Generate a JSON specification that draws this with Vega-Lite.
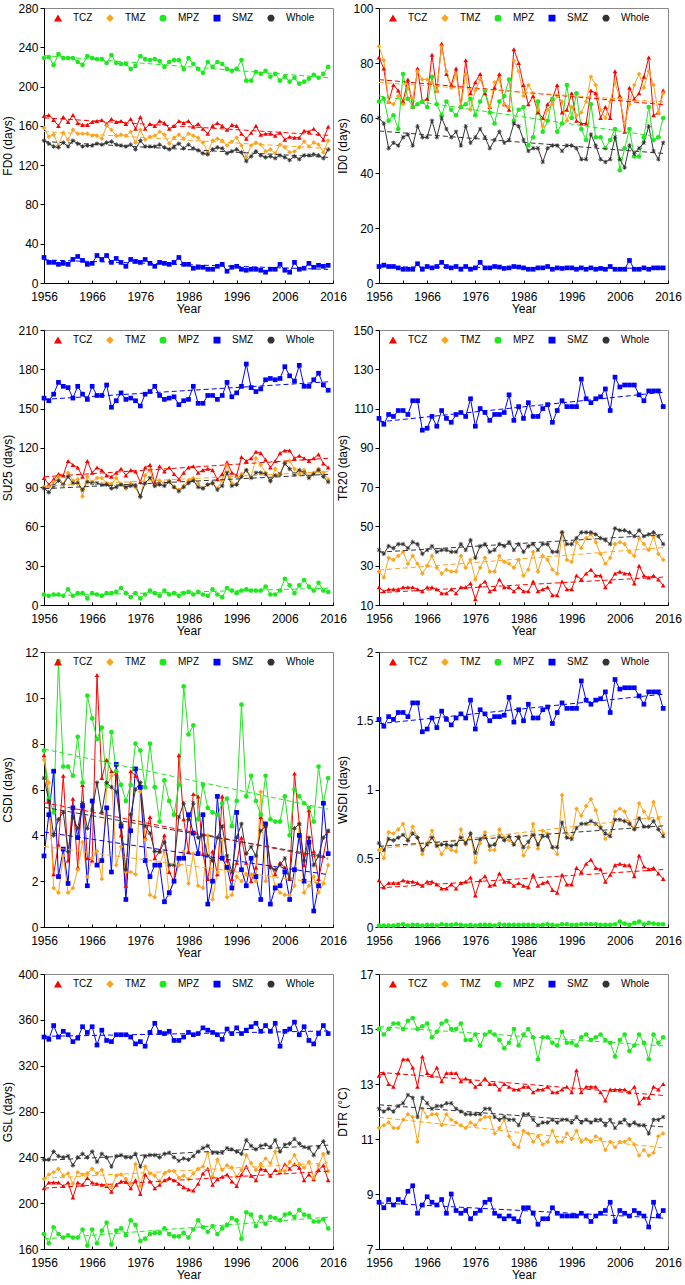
{
"$schema": "https://vega.github.io/schema/vega-lite/v6.json",
"padding": {"left": 0, "top": 1, "right": 3, "bottom": 0},
"columns": 2,
"spacing": {"row": 47, "column": 46},
"bounds": "flush",
"resolve": {"scale": {"color": "independent", "shape": "independent", "y": "independent", "x": "independent"}},
"datasets": {
"FD0": [
{"year":1956,"TCZ":170,"TMZ":158,"MPZ":229,"SMZ":26,"Whole":145},
{"year":1957,"TCZ":171,"TMZ":149,"MPZ":230,"SMZ":21,"Whole":142},
{"year":1958,"TCZ":166,"TMZ":151,"MPZ":222,"SMZ":21,"Whole":139},
{"year":1959,"TCZ":160,"TMZ":140,"MPZ":233,"SMZ":19,"Whole":138},
{"year":1960,"TCZ":169,"TMZ":153,"MPZ":229,"SMZ":20,"Whole":143},
{"year":1961,"TCZ":164,"TMZ":146,"MPZ":229,"SMZ":19,"Whole":139},
{"year":1962,"TCZ":171,"TMZ":156,"MPZ":229,"SMZ":24,"Whole":145},
{"year":1963,"TCZ":163,"TMZ":152,"MPZ":225,"SMZ":27,"Whole":142},
{"year":1964,"TCZ":161,"TMZ":152,"MPZ":222,"SMZ":23,"Whole":139},
{"year":1965,"TCZ":161,"TMZ":152,"MPZ":231,"SMZ":19,"Whole":140},
{"year":1966,"TCZ":164,"TMZ":150,"MPZ":229,"SMZ":20,"Whole":140},
{"year":1967,"TCZ":165,"TMZ":150,"MPZ":228,"SMZ":28,"Whole":142},
{"year":1968,"TCZ":166,"TMZ":147,"MPZ":228,"SMZ":24,"Whole":141},
{"year":1969,"TCZ":162,"TMZ":160,"MPZ":224,"SMZ":28,"Whole":143},
{"year":1970,"TCZ":167,"TMZ":156,"MPZ":232,"SMZ":21,"Whole":144},
{"year":1971,"TCZ":164,"TMZ":150,"MPZ":224,"SMZ":25,"Whole":141},
{"year":1972,"TCZ":165,"TMZ":151,"MPZ":223,"SMZ":21,"Whole":140},
{"year":1973,"TCZ":162,"TMZ":150,"MPZ":223,"SMZ":17,"Whole":139},
{"year":1974,"TCZ":167,"TMZ":154,"MPZ":218,"SMZ":24,"Whole":141},
{"year":1975,"TCZ":157,"TMZ":143,"MPZ":221,"SMZ":22,"Whole":136},
{"year":1976,"TCZ":169,"TMZ":156,"MPZ":231,"SMZ":21,"Whole":145},
{"year":1977,"TCZ":157,"TMZ":146,"MPZ":228,"SMZ":24,"Whole":139},
{"year":1978,"TCZ":162,"TMZ":149,"MPZ":227,"SMZ":20,"Whole":139},
{"year":1979,"TCZ":160,"TMZ":150,"MPZ":228,"SMZ":17,"Whole":139},
{"year":1980,"TCZ":165,"TMZ":154,"MPZ":226,"SMZ":21,"Whole":141},
{"year":1981,"TCZ":163,"TMZ":151,"MPZ":220,"SMZ":20,"Whole":138},
{"year":1982,"TCZ":157,"TMZ":142,"MPZ":225,"SMZ":19,"Whole":136},
{"year":1983,"TCZ":160,"TMZ":148,"MPZ":227,"SMZ":21,"Whole":139},
{"year":1984,"TCZ":165,"TMZ":151,"MPZ":227,"SMZ":26,"Whole":142},
{"year":1985,"TCZ":163,"TMZ":147,"MPZ":218,"SMZ":19,"Whole":137},
{"year":1986,"TCZ":165,"TMZ":152,"MPZ":229,"SMZ":19,"Whole":141},
{"year":1987,"TCZ":159,"TMZ":150,"MPZ":223,"SMZ":15,"Whole":137},
{"year":1988,"TCZ":162,"TMZ":148,"MPZ":218,"SMZ":16,"Whole":135},
{"year":1989,"TCZ":157,"TMZ":143,"MPZ":214,"SMZ":16,"Whole":132},
{"year":1990,"TCZ":152,"TMZ":133,"MPZ":225,"SMZ":14,"Whole":131},
{"year":1991,"TCZ":160,"TMZ":145,"MPZ":220,"SMZ":14,"Whole":136},
{"year":1992,"TCZ":163,"TMZ":147,"MPZ":225,"SMZ":17,"Whole":138},
{"year":1993,"TCZ":160,"TMZ":145,"MPZ":223,"SMZ":19,"Whole":137},
{"year":1994,"TCZ":156,"TMZ":140,"MPZ":218,"SMZ":12,"Whole":132},
{"year":1995,"TCZ":161,"TMZ":144,"MPZ":216,"SMZ":16,"Whole":134},
{"year":1996,"TCZ":160,"TMZ":148,"MPZ":218,"SMZ":17,"Whole":136},
{"year":1997,"TCZ":152,"TMZ":140,"MPZ":227,"SMZ":14,"Whole":133},
{"year":1998,"TCZ":147,"TMZ":128,"MPZ":206,"SMZ":13,"Whole":124},
{"year":1999,"TCZ":153,"TMZ":140,"MPZ":206,"SMZ":14,"Whole":129},
{"year":2000,"TCZ":160,"TMZ":143,"MPZ":215,"SMZ":14,"Whole":134},
{"year":2001,"TCZ":151,"TMZ":141,"MPZ":213,"SMZ":13,"Whole":130},
{"year":2002,"TCZ":152,"TMZ":134,"MPZ":216,"SMZ":11,"Whole":128},
{"year":2003,"TCZ":152,"TMZ":136,"MPZ":210,"SMZ":14,"Whole":129},
{"year":2004,"TCZ":150,"TMZ":132,"MPZ":213,"SMZ":14,"Whole":127},
{"year":2005,"TCZ":153,"TMZ":141,"MPZ":206,"SMZ":19,"Whole":130},
{"year":2006,"TCZ":146,"TMZ":138,"MPZ":210,"SMZ":13,"Whole":128},
{"year":2007,"TCZ":149,"TMZ":133,"MPZ":205,"SMZ":11,"Whole":125},
{"year":2008,"TCZ":148,"TMZ":134,"MPZ":209,"SMZ":21,"Whole":129},
{"year":2009,"TCZ":148,"TMZ":138,"MPZ":203,"SMZ":14,"Whole":126},
{"year":2010,"TCZ":155,"TMZ":144,"MPZ":205,"SMZ":15,"Whole":130},
{"year":2011,"TCZ":154,"TMZ":139,"MPZ":208,"SMZ":20,"Whole":130},
{"year":2012,"TCZ":157,"TMZ":143,"MPZ":212,"SMZ":16,"Whole":131},
{"year":2013,"TCZ":152,"TMZ":141,"MPZ":209,"SMZ":18,"Whole":130},
{"year":2014,"TCZ":146,"TMZ":133,"MPZ":213,"SMZ":17,"Whole":127},
{"year":2015,"TCZ":159,"TMZ":145,"MPZ":220,"SMZ":18,"Whole":136}
],
"ID0": [
{"year":1956,"TCZ":82,"TMZ":86,"MPZ":66,"SMZ":6,"Whole":60},
{"year":1957,"TCZ":78,"TMZ":81,"MPZ":67,"SMZ":6.5,"Whole":58},
{"year":1958,"TCZ":66,"TMZ":66,"MPZ":59,"SMZ":6,"Whole":49},
{"year":1959,"TCZ":72,"TMZ":65,"MPZ":61,"SMZ":6,"Whole":51},
{"year":1960,"TCZ":70,"TMZ":68,"MPZ":56,"SMZ":5.5,"Whole":50},
{"year":1961,"TCZ":66,"TMZ":65,"MPZ":76,"SMZ":5,"Whole":53},
{"year":1962,"TCZ":74,"TMZ":71,"MPZ":67,"SMZ":5,"Whole":54},
{"year":1963,"TCZ":64,"TMZ":67,"MPZ":64,"SMZ":5,"Whole":50},
{"year":1964,"TCZ":78,"TMZ":77,"MPZ":65,"SMZ":7,"Whole":57},
{"year":1965,"TCZ":66,"TMZ":74,"MPZ":66,"SMZ":5,"Whole":53},
{"year":1966,"TCZ":67,"TMZ":74,"MPZ":64,"SMZ":6,"Whole":53},
{"year":1967,"TCZ":83,"TMZ":73,"MPZ":75,"SMZ":5.5,"Whole":59},
{"year":1968,"TCZ":70,"TMZ":70,"MPZ":65,"SMZ":6,"Whole":53},
{"year":1969,"TCZ":87,"TMZ":86,"MPZ":61,"SMZ":7.5,"Whole":60},
{"year":1970,"TCZ":76,"TMZ":77,"MPZ":66,"SMZ":6,"Whole":56},
{"year":1971,"TCZ":72,"TMZ":71,"MPZ":63,"SMZ":5.5,"Whole":53},
{"year":1972,"TCZ":78,"TMZ":76,"MPZ":61,"SMZ":6,"Whole":55},
{"year":1973,"TCZ":64,"TMZ":64,"MPZ":64,"SMZ":5,"Whole":50},
{"year":1974,"TCZ":81,"TMZ":76,"MPZ":65,"SMZ":6,"Whole":57},
{"year":1975,"TCZ":69,"TMZ":63,"MPZ":67,"SMZ":5,"Whole":51},
{"year":1976,"TCZ":73,"TMZ":70,"MPZ":61,"SMZ":5.5,"Whole":53},
{"year":1977,"TCZ":76,"TMZ":74,"MPZ":66,"SMZ":7.5,"Whole":56},
{"year":1978,"TCZ":69,"TMZ":70,"MPZ":70,"SMZ":5.5,"Whole":53},
{"year":1979,"TCZ":64,"TMZ":64,"MPZ":62,"SMZ":5.5,"Whole":49},
{"year":1980,"TCZ":71,"TMZ":73,"MPZ":58,"SMZ":6,"Whole":52},
{"year":1981,"TCZ":76,"TMZ":74,"MPZ":66,"SMZ":5.8,"Whole":55},
{"year":1982,"TCZ":65,"TMZ":65,"MPZ":68,"SMZ":5.3,"Whole":51},
{"year":1983,"TCZ":63,"TMZ":64,"MPZ":74,"SMZ":5.5,"Whole":52},
{"year":1984,"TCZ":85,"TMZ":81,"MPZ":59,"SMZ":6,"Whole":58},
{"year":1985,"TCZ":80,"TMZ":77,"MPZ":63,"SMZ":5.8,"Whole":57},
{"year":1986,"TCZ":72,"TMZ":68,"MPZ":64,"SMZ":5.5,"Whole":52},
{"year":1987,"TCZ":65,"TMZ":72,"MPZ":50,"SMZ":5,"Whole":48},
{"year":1988,"TCZ":68,"TMZ":69,"MPZ":53,"SMZ":5,"Whole":49},
{"year":1989,"TCZ":62,"TMZ":63,"MPZ":66,"SMZ":5.5,"Whole":49},
{"year":1990,"TCZ":60,"TMZ":57,"MPZ":55,"SMZ":5.5,"Whole":44},
{"year":1991,"TCZ":65,"TMZ":63,"MPZ":59,"SMZ":6,"Whole":49},
{"year":1992,"TCZ":67,"TMZ":65,"MPZ":67,"SMZ":5,"Whole":50},
{"year":1993,"TCZ":72,"TMZ":68,"MPZ":55,"SMZ":5.5,"Whole":50},
{"year":1994,"TCZ":62,"TMZ":66,"MPZ":58,"SMZ":5.3,"Whole":48},
{"year":1995,"TCZ":63,"TMZ":59,"MPZ":72,"SMZ":5.5,"Whole":50},
{"year":1996,"TCZ":69,"TMZ":64,"MPZ":60,"SMZ":5.5,"Whole":50},
{"year":1997,"TCZ":59,"TMZ":61,"MPZ":69,"SMZ":5,"Whole":49},
{"year":1998,"TCZ":58,"TMZ":62,"MPZ":56,"SMZ":5.5,"Whole":45},
{"year":1999,"TCZ":58,"TMZ":66,"MPZ":52,"SMZ":5,"Whole":45},
{"year":2000,"TCZ":70,"TMZ":75,"MPZ":65,"SMZ":5.5,"Whole":54},
{"year":2001,"TCZ":69,"TMZ":72,"MPZ":53,"SMZ":5,"Whole":50},
{"year":2002,"TCZ":60,"TMZ":63,"MPZ":53,"SMZ":5.3,"Whole":45},
{"year":2003,"TCZ":64,"TMZ":60,"MPZ":49,"SMZ":5,"Whole":44},
{"year":2004,"TCZ":60,"TMZ":66,"MPZ":52,"SMZ":6,"Whole":45},
{"year":2005,"TCZ":77,"TMZ":73,"MPZ":56,"SMZ":5,"Whole":53},
{"year":2006,"TCZ":68,"TMZ":67,"MPZ":41,"SMZ":5,"Whole":45},
{"year":2007,"TCZ":55,"TMZ":58,"MPZ":49,"SMZ":5,"Whole":42},
{"year":2008,"TCZ":71,"TMZ":65,"MPZ":56,"SMZ":8.2,"Whole":50},
{"year":2009,"TCZ":67,"TMZ":72,"MPZ":46,"SMZ":5,"Whole":47},
{"year":2010,"TCZ":69,"TMZ":76,"MPZ":46,"SMZ":5,"Whole":49},
{"year":2011,"TCZ":75,"TMZ":71,"MPZ":53,"SMZ":5.5,"Whole":51},
{"year":2012,"TCZ":82,"TMZ":77,"MPZ":64,"SMZ":5,"Whole":57},
{"year":2013,"TCZ":61,"TMZ":72,"MPZ":52,"SMZ":5.5,"Whole":48},
{"year":2014,"TCZ":62,"TMZ":62,"MPZ":53,"SMZ":5.5,"Whole":45},
{"year":2015,"TCZ":70,"TMZ":69,"MPZ":60,"SMZ":5.5,"Whole":51}
],
"SU25": [
{"year":1956,"TCZ":97,"TMZ":90,"MPZ":8,"SMZ":158,"Whole":89},
{"year":1957,"TCZ":92,"TMZ":90,"MPZ":7,"SMZ":156,"Whole":86},
{"year":1958,"TCZ":96,"TMZ":94,"MPZ":8,"SMZ":161,"Whole":91},
{"year":1959,"TCZ":100,"TMZ":98,"MPZ":8,"SMZ":170,"Whole":95},
{"year":1960,"TCZ":99,"TMZ":92,"MPZ":7,"SMZ":167,"Whole":92},
{"year":1961,"TCZ":110,"TMZ":101,"MPZ":12,"SMZ":166,"Whole":98},
{"year":1962,"TCZ":107,"TMZ":95,"MPZ":7,"SMZ":158,"Whole":93},
{"year":1963,"TCZ":105,"TMZ":96,"MPZ":9,"SMZ":167,"Whole":93},
{"year":1964,"TCZ":98,"TMZ":83,"MPZ":9,"SMZ":161,"Whole":88},
{"year":1965,"TCZ":110,"TMZ":98,"MPZ":5,"SMZ":157,"Whole":94},
{"year":1966,"TCZ":101,"TMZ":94,"MPZ":9,"SMZ":167,"Whole":93},
{"year":1967,"TCZ":105,"TMZ":97,"MPZ":8,"SMZ":160,"Whole":93},
{"year":1968,"TCZ":103,"TMZ":97,"MPZ":7,"SMZ":160,"Whole":92},
{"year":1969,"TCZ":99,"TMZ":93,"MPZ":9,"SMZ":168,"Whole":92},
{"year":1970,"TCZ":98,"TMZ":92,"MPZ":9,"SMZ":151,"Whole":89},
{"year":1971,"TCZ":101,"TMZ":97,"MPZ":10,"SMZ":156,"Whole":90},
{"year":1972,"TCZ":104,"TMZ":92,"MPZ":13,"SMZ":162,"Whole":92},
{"year":1973,"TCZ":99,"TMZ":89,"MPZ":9,"SMZ":157,"Whole":90},
{"year":1974,"TCZ":103,"TMZ":93,"MPZ":6,"SMZ":158,"Whole":91},
{"year":1975,"TCZ":102,"TMZ":90,"MPZ":9,"SMZ":156,"Whole":91},
{"year":1976,"TCZ":94,"TMZ":82,"MPZ":5,"SMZ":152,"Whole":83},
{"year":1977,"TCZ":105,"TMZ":99,"MPZ":8,"SMZ":161,"Whole":93},
{"year":1978,"TCZ":107,"TMZ":103,"MPZ":11,"SMZ":163,"Whole":97},
{"year":1979,"TCZ":93,"TMZ":91,"MPZ":9,"SMZ":167,"Whole":91},
{"year":1980,"TCZ":106,"TMZ":95,"MPZ":7,"SMZ":160,"Whole":92},
{"year":1981,"TCZ":102,"TMZ":93,"MPZ":11,"SMZ":157,"Whole":91},
{"year":1982,"TCZ":105,"TMZ":95,"MPZ":8,"SMZ":158,"Whole":94},
{"year":1983,"TCZ":100,"TMZ":90,"MPZ":9,"SMZ":159,"Whole":90},
{"year":1984,"TCZ":96,"TMZ":88,"MPZ":7,"SMZ":153,"Whole":87},
{"year":1985,"TCZ":101,"TMZ":91,"MPZ":9,"SMZ":156,"Whole":90},
{"year":1986,"TCZ":105,"TMZ":95,"MPZ":10,"SMZ":157,"Whole":93},
{"year":1987,"TCZ":106,"TMZ":97,"MPZ":8,"SMZ":167,"Whole":95},
{"year":1988,"TCZ":101,"TMZ":93,"MPZ":10,"SMZ":154,"Whole":90},
{"year":1989,"TCZ":103,"TMZ":89,"MPZ":8,"SMZ":154,"Whole":89},
{"year":1990,"TCZ":104,"TMZ":92,"MPZ":7,"SMZ":160,"Whole":92},
{"year":1991,"TCZ":103,"TMZ":93,"MPZ":12,"SMZ":160,"Whole":93},
{"year":1992,"TCZ":96,"TMZ":89,"MPZ":8,"SMZ":157,"Whole":88},
{"year":1993,"TCZ":100,"TMZ":95,"MPZ":6,"SMZ":160,"Whole":91},
{"year":1994,"TCZ":109,"TMZ":107,"MPZ":13,"SMZ":170,"Whole":101},
{"year":1995,"TCZ":101,"TMZ":93,"MPZ":11,"SMZ":159,"Whole":91},
{"year":1996,"TCZ":99,"TMZ":92,"MPZ":9,"SMZ":162,"Whole":92},
{"year":1997,"TCZ":113,"TMZ":100,"MPZ":11,"SMZ":167,"Whole":98},
{"year":1998,"TCZ":110,"TMZ":103,"MPZ":12,"SMZ":184,"Whole":103},
{"year":1999,"TCZ":112,"TMZ":98,"MPZ":11,"SMZ":166,"Whole":97},
{"year":2000,"TCZ":117,"TMZ":112,"MPZ":11,"SMZ":163,"Whole":101},
{"year":2001,"TCZ":116,"TMZ":107,"MPZ":11,"SMZ":165,"Whole":101},
{"year":2002,"TCZ":111,"TMZ":101,"MPZ":14,"SMZ":172,"Whole":100},
{"year":2003,"TCZ":105,"TMZ":94,"MPZ":8,"SMZ":173,"Whole":95},
{"year":2004,"TCZ":110,"TMZ":104,"MPZ":8,"SMZ":172,"Whole":99},
{"year":2005,"TCZ":116,"TMZ":100,"MPZ":11,"SMZ":173,"Whole":100},
{"year":2006,"TCZ":118,"TMZ":109,"MPZ":20,"SMZ":182,"Whole":108},
{"year":2007,"TCZ":118,"TMZ":110,"MPZ":15,"SMZ":175,"Whole":104},
{"year":2008,"TCZ":112,"TMZ":104,"MPZ":9,"SMZ":171,"Whole":100},
{"year":2009,"TCZ":114,"TMZ":100,"MPZ":15,"SMZ":183,"Whole":103},
{"year":2010,"TCZ":112,"TMZ":103,"MPZ":19,"SMZ":167,"Whole":101},
{"year":2011,"TCZ":110,"TMZ":98,"MPZ":14,"SMZ":167,"Whole":97},
{"year":2012,"TCZ":112,"TMZ":101,"MPZ":11,"SMZ":172,"Whole":100},
{"year":2013,"TCZ":115,"TMZ":104,"MPZ":17,"SMZ":177,"Whole":103},
{"year":2014,"TCZ":108,"TMZ":101,"MPZ":11,"SMZ":168,"Whole":98},
{"year":2015,"TCZ":105,"TMZ":96,"MPZ":10,"SMZ":164,"Whole":94}
],
"TR20": [
{"year":1956,"TCZ":19,"TMZ":27,"SMZ":105,"Whole":38},
{"year":1957,"TCZ":17,"TMZ":24,"SMZ":102,"Whole":36},
{"year":1958,"TCZ":18,"TMZ":34,"SMZ":107,"Whole":40},
{"year":1959,"TCZ":18,"TMZ":33,"SMZ":106,"Whole":39},
{"year":1960,"TCZ":18,"TMZ":35,"SMZ":109,"Whole":41},
{"year":1961,"TCZ":19,"TMZ":37,"SMZ":109,"Whole":41},
{"year":1962,"TCZ":19,"TMZ":31,"SMZ":107,"Whole":39},
{"year":1963,"TCZ":19,"TMZ":35,"SMZ":114,"Whole":42},
{"year":1964,"TCZ":18,"TMZ":31,"SMZ":114,"Whole":41},
{"year":1965,"TCZ":17,"TMZ":26,"SMZ":99,"Whole":36},
{"year":1966,"TCZ":19,"TMZ":30,"SMZ":100,"Whole":38},
{"year":1967,"TCZ":19,"TMZ":35,"SMZ":106,"Whole":40},
{"year":1968,"TCZ":18,"TMZ":29,"SMZ":101,"Whole":37},
{"year":1969,"TCZ":16,"TMZ":26,"SMZ":109,"Whole":38},
{"year":1970,"TCZ":16,"TMZ":28,"SMZ":105,"Whole":38},
{"year":1971,"TCZ":18,"TMZ":27,"SMZ":103,"Whole":37},
{"year":1972,"TCZ":16,"TMZ":27,"SMZ":107,"Whole":37},
{"year":1973,"TCZ":19,"TMZ":35,"SMZ":108,"Whole":41},
{"year":1974,"TCZ":19,"TMZ":29,"SMZ":106,"Whole":38},
{"year":1975,"TCZ":21,"TMZ":33,"SMZ":115,"Whole":43},
{"year":1976,"TCZ":13,"TMZ":23,"SMZ":101,"Whole":34},
{"year":1977,"TCZ":20,"TMZ":29,"SMZ":110,"Whole":40},
{"year":1978,"TCZ":22,"TMZ":34,"SMZ":108,"Whole":41},
{"year":1979,"TCZ":17,"TMZ":27,"SMZ":104,"Whole":37},
{"year":1980,"TCZ":18,"TMZ":27,"SMZ":107,"Whole":38},
{"year":1981,"TCZ":23,"TMZ":35,"SMZ":107,"Whole":41},
{"year":1982,"TCZ":19,"TMZ":32,"SMZ":108,"Whole":40},
{"year":1983,"TCZ":19,"TMZ":31,"SMZ":117,"Whole":42},
{"year":1984,"TCZ":17,"TMZ":29,"SMZ":104,"Whole":38},
{"year":1985,"TCZ":19,"TMZ":33,"SMZ":111,"Whole":41},
{"year":1986,"TCZ":17,"TMZ":25,"SMZ":105,"Whole":37},
{"year":1987,"TCZ":17,"TMZ":28,"SMZ":113,"Whole":40},
{"year":1988,"TCZ":22,"TMZ":37,"SMZ":106,"Whole":41},
{"year":1989,"TCZ":17,"TMZ":27,"SMZ":106,"Whole":38},
{"year":1990,"TCZ":18,"TMZ":35,"SMZ":110,"Whole":41},
{"year":1991,"TCZ":19,"TMZ":33,"SMZ":112,"Whole":41},
{"year":1992,"TCZ":15,"TMZ":28,"SMZ":103,"Whole":37},
{"year":1993,"TCZ":15,"TMZ":26,"SMZ":109,"Whole":37},
{"year":1994,"TCZ":22,"TMZ":47,"SMZ":114,"Whole":47},
{"year":1995,"TCZ":18,"TMZ":33,"SMZ":111,"Whole":41},
{"year":1996,"TCZ":18,"TMZ":32,"SMZ":111,"Whole":41},
{"year":1997,"TCZ":25,"TMZ":42,"SMZ":111,"Whole":44},
{"year":1998,"TCZ":23,"TMZ":39,"SMZ":125,"Whole":47},
{"year":1999,"TCZ":26,"TMZ":44,"SMZ":115,"Whole":47},
{"year":2000,"TCZ":28,"TMZ":46,"SMZ":113,"Whole":47},
{"year":2001,"TCZ":25,"TMZ":42,"SMZ":115,"Whole":46},
{"year":2002,"TCZ":25,"TMZ":36,"SMZ":116,"Whole":44},
{"year":2003,"TCZ":19,"TMZ":31,"SMZ":120,"Whole":43},
{"year":2004,"TCZ":22,"TMZ":34,"SMZ":109,"Whole":41},
{"year":2005,"TCZ":26,"TMZ":41,"SMZ":126,"Whole":49},
{"year":2006,"TCZ":27,"TMZ":42,"SMZ":121,"Whole":48},
{"year":2007,"TCZ":26,"TMZ":41,"SMZ":122,"Whole":48},
{"year":2008,"TCZ":26,"TMZ":37,"SMZ":122,"Whole":47},
{"year":2009,"TCZ":21,"TMZ":35,"SMZ":122,"Whole":45},
{"year":2010,"TCZ":30,"TMZ":44,"SMZ":117,"Whole":48},
{"year":2011,"TCZ":25,"TMZ":41,"SMZ":114,"Whole":45},
{"year":2012,"TCZ":24,"TMZ":38,"SMZ":119,"Whole":46},
{"year":2013,"TCZ":25,"TMZ":45,"SMZ":119,"Whole":47},
{"year":2014,"TCZ":23,"TMZ":36,"SMZ":119,"Whole":45},
{"year":2015,"TCZ":20,"TMZ":33,"SMZ":111,"Whole":41}
],
"CSDI": [
{"year":1956,"TCZ":7.5,"TMZ":7.3,"MPZ":7.7,"SMZ":3.1,"Whole":6.5},
{"year":1957,"TCZ":5.5,"TMZ":6.3,"MPZ":5.6,"SMZ":4.9,"Whole":5.5},
{"year":1958,"TCZ":2.3,"TMZ":1.7,"MPZ":5.0,"SMZ":6.8,"Whole":4.0},
{"year":1959,"TCZ":3.6,"TMZ":1.5,"MPZ":11.6,"SMZ":2.2,"Whole":4.7},
{"year":1960,"TCZ":6.6,"TMZ":3.1,"MPZ":7.0,"SMZ":3.4,"Whole":5.0},
{"year":1961,"TCZ":2.9,"TMZ":1.5,"MPZ":7.0,"SMZ":1.9,"Whole":3.3},
{"year":1962,"TCZ":5.6,"TMZ":1.7,"MPZ":6.6,"SMZ":5.2,"Whole":4.8},
{"year":1963,"TCZ":2.6,"TMZ":2.5,"MPZ":8.3,"SMZ":3.9,"Whole":4.3},
{"year":1964,"TCZ":6.2,"TMZ":3.7,"MPZ":6.3,"SMZ":5.3,"Whole":5.4},
{"year":1965,"TCZ":3.0,"TMZ":2.2,"MPZ":10.1,"SMZ":1.8,"Whole":4.3},
{"year":1966,"TCZ":2.9,"TMZ":3.0,"MPZ":9.1,"SMZ":5.5,"Whole":5.1},
{"year":1967,"TCZ":11.0,"TMZ":3.3,"MPZ":8.2,"SMZ":2.7,"Whole":6.3},
{"year":1968,"TCZ":6.5,"TMZ":2.1,"MPZ":8.7,"SMZ":2.9,"Whole":5.0},
{"year":1969,"TCZ":7.3,"TMZ":6.1,"MPZ":6.2,"SMZ":5.2,"Whole":6.3},
{"year":1970,"TCZ":6.8,"TMZ":6.6,"MPZ":8.5,"SMZ":2.4,"Whole":6.1},
{"year":1971,"TCZ":6.7,"TMZ":2.7,"MPZ":6.8,"SMZ":7.1,"Whole":5.9},
{"year":1972,"TCZ":4.0,"TMZ":3.5,"MPZ":6.2,"SMZ":4.4,"Whole":4.5},
{"year":1973,"TCZ":1.8,"TMZ":2.4,"MPZ":5.5,"SMZ":1.2,"Whole":2.5},
{"year":1974,"TCZ":6.8,"TMZ":2.4,"MPZ":6.2,"SMZ":4.2,"Whole":4.9},
{"year":1975,"TCZ":6.6,"TMZ":2.3,"MPZ":8.0,"SMZ":6.9,"Whole":6.0},
{"year":1976,"TCZ":6.1,"TMZ":5.9,"MPZ":7.7,"SMZ":6.1,"Whole":6.3},
{"year":1977,"TCZ":3.9,"TMZ":3.8,"MPZ":6.1,"SMZ":2.9,"Whole":4.4},
{"year":1978,"TCZ":4.8,"TMZ":1.4,"MPZ":8.0,"SMZ":2.2,"Whole":4.1},
{"year":1979,"TCZ":3.0,"TMZ":1.3,"MPZ":6.1,"SMZ":2.7,"Whole":3.3},
{"year":1980,"TCZ":3.3,"TMZ":2.7,"MPZ":4.6,"SMZ":2.7,"Whole":3.3},
{"year":1981,"TCZ":4.0,"TMZ":3.3,"MPZ":6.4,"SMZ":1.1,"Whole":3.7},
{"year":1982,"TCZ":2.4,"TMZ":1.4,"MPZ":5.5,"SMZ":1.5,"Whole":2.7},
{"year":1983,"TCZ":2.0,"TMZ":2.0,"MPZ":4.9,"SMZ":2.0,"Whole":2.7},
{"year":1984,"TCZ":7.5,"TMZ":2.7,"MPZ":6.2,"SMZ":3.0,"Whole":4.8},
{"year":1985,"TCZ":4.7,"TMZ":3.3,"MPZ":10.5,"SMZ":3.0,"Whole":5.4},
{"year":1986,"TCZ":3.3,"TMZ":1.9,"MPZ":8.4,"SMZ":4.9,"Whole":4.7},
{"year":1987,"TCZ":5.8,"TMZ":3.2,"MPZ":8.8,"SMZ":4.1,"Whole":5.4},
{"year":1988,"TCZ":5.7,"TMZ":1.8,"MPZ":4.7,"SMZ":3.2,"Whole":3.9},
{"year":1989,"TCZ":3.2,"TMZ":1.7,"MPZ":6.2,"SMZ":4.9,"Whole":4.0},
{"year":1990,"TCZ":2.1,"TMZ":4.0,"MPZ":5.2,"SMZ":1.0,"Whole":3.1},
{"year":1991,"TCZ":3.3,"TMZ":1.2,"MPZ":5.0,"SMZ":2.0,"Whole":2.9},
{"year":1992,"TCZ":2.3,"TMZ":2.4,"MPZ":4.9,"SMZ":5.7,"Whole":3.9},
{"year":1993,"TCZ":5.7,"TMZ":3.8,"MPZ":5.4,"SMZ":3.0,"Whole":4.4},
{"year":1994,"TCZ":2.9,"TMZ":1.3,"MPZ":5.6,"SMZ":2.6,"Whole":3.1},
{"year":1995,"TCZ":2.1,"TMZ":1.4,"MPZ":4.4,"SMZ":1.7,"Whole":2.4},
{"year":1996,"TCZ":2.8,"TMZ":2.2,"MPZ":5.5,"SMZ":5.0,"Whole":3.9},
{"year":1997,"TCZ":3.9,"TMZ":2.0,"MPZ":9.7,"SMZ":2.5,"Whole":4.5},
{"year":1998,"TCZ":2.8,"TMZ":2.3,"MPZ":5.7,"SMZ":1.8,"Whole":3.2},
{"year":1999,"TCZ":2.0,"TMZ":2.3,"MPZ":6.6,"SMZ":3.0,"Whole":3.5},
{"year":2000,"TCZ":2.6,"TMZ":2.0,"MPZ":5.5,"SMZ":2.2,"Whole":3.1},
{"year":2001,"TCZ":4.8,"TMZ":5.9,"MPZ":4.9,"SMZ":1.2,"Whole":4.2},
{"year":2002,"TCZ":4.4,"TMZ":2.0,"MPZ":6.6,"SMZ":4.5,"Whole":4.4},
{"year":2003,"TCZ":2.7,"TMZ":2.6,"MPZ":4.7,"SMZ":1.0,"Whole":2.6},
{"year":2004,"TCZ":2.3,"TMZ":1.8,"MPZ":4.6,"SMZ":1.7,"Whole":2.5},
{"year":2005,"TCZ":2.8,"TMZ":1.5,"MPZ":4.6,"SMZ":1.8,"Whole":2.7},
{"year":2006,"TCZ":2.6,"TMZ":1.4,"MPZ":5.7,"SMZ":2.4,"Whole":3.0},
{"year":2007,"TCZ":2.1,"TMZ":1.4,"MPZ":4.0,"SMZ":1.2,"Whole":2.1},
{"year":2008,"TCZ":6.7,"TMZ":1.8,"MPZ":6.0,"SMZ":2.5,"Whole":4.3},
{"year":2009,"TCZ":4.5,"TMZ":4.5,"MPZ":5.7,"SMZ":4.0,"Whole":4.5},
{"year":2010,"TCZ":2.7,"TMZ":1.5,"MPZ":5.4,"SMZ":2.0,"Whole":2.9},
{"year":2011,"TCZ":5.1,"TMZ":1.8,"MPZ":5.2,"SMZ":3.7,"Whole":3.9},
{"year":2012,"TCZ":3.3,"TMZ":2.2,"MPZ":4.6,"SMZ":0.7,"Whole":2.7},
{"year":2013,"TCZ":2.1,"TMZ":1.5,"MPZ":7.0,"SMZ":1.8,"Whole":3.1},
{"year":2014,"TCZ":3.1,"TMZ":1.9,"MPZ":5.4,"SMZ":5.4,"Whole":3.9},
{"year":2015,"TCZ":4.2,"TMZ":2.7,"MPZ":6.5,"SMZ":3.2,"Whole":4.2}
],
"WSDI": [
{"year":1956,"TCZ":0.34,"TMZ":0.56,"MPZ":0.01,"SMZ":1.51,"Whole":0.61},
{"year":1957,"TCZ":0.29,"TMZ":0.50,"MPZ":0.01,"SMZ":1.46,"Whole":0.56},
{"year":1958,"TCZ":0.32,"TMZ":0.69,"MPZ":0.01,"SMZ":1.53,"Whole":0.64},
{"year":1959,"TCZ":0.32,"TMZ":0.68,"MPZ":0.01,"SMZ":1.51,"Whole":0.63},
{"year":1960,"TCZ":0.32,"TMZ":0.71,"MPZ":0.015,"SMZ":1.56,"Whole":0.65},
{"year":1961,"TCZ":0.34,"TMZ":0.75,"MPZ":0.02,"SMZ":1.56,"Whole":0.67},
{"year":1962,"TCZ":0.33,"TMZ":0.63,"MPZ":0.01,"SMZ":1.53,"Whole":0.63},
{"year":1963,"TCZ":0.33,"TMZ":0.73,"MPZ":0.015,"SMZ":1.63,"Whole":0.68},
{"year":1964,"TCZ":0.32,"TMZ":0.65,"MPZ":0.015,"SMZ":1.63,"Whole":0.65},
{"year":1965,"TCZ":0.30,"TMZ":0.53,"MPZ":0.01,"SMZ":1.42,"Whole":0.56},
{"year":1966,"TCZ":0.33,"TMZ":0.61,"MPZ":0.015,"SMZ":1.44,"Whole":0.60},
{"year":1967,"TCZ":0.33,"TMZ":0.70,"MPZ":0.015,"SMZ":1.52,"Whole":0.65},
{"year":1968,"TCZ":0.31,"TMZ":0.60,"MPZ":0.01,"SMZ":1.45,"Whole":0.59},
{"year":1969,"TCZ":0.28,"TMZ":0.53,"MPZ":0.02,"SMZ":1.57,"Whole":0.60},
{"year":1970,"TCZ":0.28,"TMZ":0.58,"MPZ":0.015,"SMZ":1.51,"Whole":0.60},
{"year":1971,"TCZ":0.31,"TMZ":0.56,"MPZ":0.015,"SMZ":1.47,"Whole":0.59},
{"year":1972,"TCZ":0.28,"TMZ":0.55,"MPZ":0.02,"SMZ":1.52,"Whole":0.60},
{"year":1973,"TCZ":0.32,"TMZ":0.71,"MPZ":0.015,"SMZ":1.55,"Whole":0.65},
{"year":1974,"TCZ":0.33,"TMZ":0.60,"MPZ":0.01,"SMZ":1.52,"Whole":0.61},
{"year":1975,"TCZ":0.36,"TMZ":0.68,"MPZ":0.015,"SMZ":1.65,"Whole":0.68},
{"year":1976,"TCZ":0.23,"TMZ":0.47,"MPZ":0.01,"SMZ":1.44,"Whole":0.54},
{"year":1977,"TCZ":0.34,"TMZ":0.61,"MPZ":0.015,"SMZ":1.58,"Whole":0.64},
{"year":1978,"TCZ":0.37,"TMZ":0.69,"MPZ":0.015,"SMZ":1.55,"Whole":0.66},
{"year":1979,"TCZ":0.30,"TMZ":0.56,"MPZ":0.015,"SMZ":1.50,"Whole":0.59},
{"year":1980,"TCZ":0.31,"TMZ":0.56,"MPZ":0.01,"SMZ":1.53,"Whole":0.60},
{"year":1981,"TCZ":0.39,"TMZ":0.71,"MPZ":0.02,"SMZ":1.53,"Whole":0.66},
{"year":1982,"TCZ":0.33,"TMZ":0.65,"MPZ":0.015,"SMZ":1.54,"Whole":0.63},
{"year":1983,"TCZ":0.33,"TMZ":0.63,"MPZ":0.015,"SMZ":1.67,"Whole":0.66},
{"year":1984,"TCZ":0.30,"TMZ":0.60,"MPZ":0.015,"SMZ":1.49,"Whole":0.60},
{"year":1985,"TCZ":0.32,"TMZ":0.66,"MPZ":0.015,"SMZ":1.58,"Whole":0.65},
{"year":1986,"TCZ":0.30,"TMZ":0.52,"MPZ":0.015,"SMZ":1.50,"Whole":0.58},
{"year":1987,"TCZ":0.29,"TMZ":0.58,"MPZ":0.015,"SMZ":1.62,"Whole":0.62},
{"year":1988,"TCZ":0.38,"TMZ":0.75,"MPZ":0.015,"SMZ":1.52,"Whole":0.67},
{"year":1989,"TCZ":0.30,"TMZ":0.57,"MPZ":0.01,"SMZ":1.52,"Whole":0.60},
{"year":1990,"TCZ":0.32,"TMZ":0.70,"MPZ":0.015,"SMZ":1.58,"Whole":0.66},
{"year":1991,"TCZ":0.33,"TMZ":0.68,"MPZ":0.02,"SMZ":1.60,"Whole":0.66},
{"year":1992,"TCZ":0.27,"TMZ":0.58,"MPZ":0.015,"SMZ":1.48,"Whole":0.58},
{"year":1993,"TCZ":0.25,"TMZ":0.53,"MPZ":0.01,"SMZ":1.56,"Whole":0.58},
{"year":1994,"TCZ":0.38,"TMZ":0.96,"MPZ":0.02,"SMZ":1.63,"Whole":0.76},
{"year":1995,"TCZ":0.31,"TMZ":0.68,"MPZ":0.02,"SMZ":1.59,"Whole":0.65},
{"year":1996,"TCZ":0.31,"TMZ":0.65,"MPZ":0.015,"SMZ":1.59,"Whole":0.64},
{"year":1997,"TCZ":0.43,"TMZ":0.86,"MPZ":0.015,"SMZ":1.59,"Whole":0.72},
{"year":1998,"TCZ":0.40,"TMZ":0.81,"MPZ":0.02,"SMZ":1.79,"Whole":0.75},
{"year":1999,"TCZ":0.46,"TMZ":0.88,"MPZ":0.02,"SMZ":1.65,"Whole":0.75},
{"year":2000,"TCZ":0.49,"TMZ":0.93,"MPZ":0.02,"SMZ":1.62,"Whole":0.77},
{"year":2001,"TCZ":0.43,"TMZ":0.85,"MPZ":0.02,"SMZ":1.65,"Whole":0.75},
{"year":2002,"TCZ":0.42,"TMZ":0.73,"MPZ":0.015,"SMZ":1.66,"Whole":0.72},
{"year":2003,"TCZ":0.33,"TMZ":0.64,"MPZ":0.015,"SMZ":1.71,"Whole":0.68},
{"year":2004,"TCZ":0.38,"TMZ":0.68,"MPZ":0.015,"SMZ":1.56,"Whole":0.66},
{"year":2005,"TCZ":0.45,"TMZ":0.84,"MPZ":0.02,"SMZ":1.80,"Whole":0.78},
{"year":2006,"TCZ":0.46,"TMZ":0.86,"MPZ":0.04,"SMZ":1.73,"Whole":0.78},
{"year":2007,"TCZ":0.45,"TMZ":0.84,"MPZ":0.025,"SMZ":1.74,"Whole":0.77},
{"year":2008,"TCZ":0.45,"TMZ":0.76,"MPZ":0.015,"SMZ":1.74,"Whole":0.75},
{"year":2009,"TCZ":0.37,"TMZ":0.72,"MPZ":0.03,"SMZ":1.74,"Whole":0.71},
{"year":2010,"TCZ":0.52,"TMZ":0.90,"MPZ":0.04,"SMZ":1.68,"Whole":0.79},
{"year":2011,"TCZ":0.44,"TMZ":0.84,"MPZ":0.02,"SMZ":1.62,"Whole":0.73},
{"year":2012,"TCZ":0.42,"TMZ":0.79,"MPZ":0.03,"SMZ":1.71,"Whole":0.73},
{"year":2013,"TCZ":0.43,"TMZ":0.91,"MPZ":0.025,"SMZ":1.71,"Whole":0.77},
{"year":2014,"TCZ":0.39,"TMZ":0.79,"MPZ":0.02,"SMZ":1.71,"Whole":0.71},
{"year":2015,"TCZ":0.35,"TMZ":0.68,"MPZ":0.02,"SMZ":1.59,"Whole":0.66}
],
"GSL": [
{"year":1956,"TCZ":213,"TMZ":221,"MPZ":173,"SMZ":345,"Whole":238},
{"year":1957,"TCZ":218,"TMZ":225,"MPZ":165,"SMZ":343,"Whole":238},
{"year":1958,"TCZ":218,"TMZ":227,"MPZ":179,"SMZ":355,"Whole":245},
{"year":1959,"TCZ":218,"TMZ":230,"MPZ":173,"SMZ":345,"Whole":241},
{"year":1960,"TCZ":215,"TMZ":224,"MPZ":170,"SMZ":350,"Whole":240},
{"year":1961,"TCZ":218,"TMZ":226,"MPZ":172,"SMZ":347,"Whole":241},
{"year":1962,"TCZ":205,"TMZ":217,"MPZ":170,"SMZ":341,"Whole":233},
{"year":1963,"TCZ":218,"TMZ":227,"MPZ":170,"SMZ":344,"Whole":240},
{"year":1964,"TCZ":216,"TMZ":225,"MPZ":177,"SMZ":354,"Whole":243},
{"year":1965,"TCZ":222,"TMZ":226,"MPZ":163,"SMZ":349,"Whole":240},
{"year":1966,"TCZ":218,"TMZ":230,"MPZ":177,"SMZ":354,"Whole":245},
{"year":1967,"TCZ":217,"TMZ":226,"MPZ":165,"SMZ":338,"Whole":236},
{"year":1968,"TCZ":216,"TMZ":229,"MPZ":176,"SMZ":351,"Whole":243},
{"year":1969,"TCZ":215,"TMZ":216,"MPZ":183,"SMZ":342,"Whole":240},
{"year":1970,"TCZ":210,"TMZ":214,"MPZ":164,"SMZ":341,"Whole":232},
{"year":1971,"TCZ":216,"TMZ":224,"MPZ":176,"SMZ":347,"Whole":241},
{"year":1972,"TCZ":219,"TMZ":225,"MPZ":178,"SMZ":347,"Whole":242},
{"year":1973,"TCZ":219,"TMZ":221,"MPZ":172,"SMZ":347,"Whole":240},
{"year":1974,"TCZ":213,"TMZ":217,"MPZ":185,"SMZ":345,"Whole":240},
{"year":1975,"TCZ":220,"TMZ":234,"MPZ":181,"SMZ":339,"Whole":243},
{"year":1976,"TCZ":208,"TMZ":215,"MPZ":167,"SMZ":341,"Whole":232},
{"year":1977,"TCZ":225,"TMZ":232,"MPZ":169,"SMZ":337,"Whole":241},
{"year":1978,"TCZ":219,"TMZ":226,"MPZ":173,"SMZ":349,"Whole":242},
{"year":1979,"TCZ":213,"TMZ":224,"MPZ":174,"SMZ":357,"Whole":242},
{"year":1980,"TCZ":216,"TMZ":219,"MPZ":174,"SMZ":349,"Whole":240},
{"year":1981,"TCZ":220,"TMZ":226,"MPZ":178,"SMZ":348,"Whole":243},
{"year":1982,"TCZ":222,"TMZ":228,"MPZ":173,"SMZ":350,"Whole":244},
{"year":1983,"TCZ":220,"TMZ":228,"MPZ":171,"SMZ":342,"Whole":240},
{"year":1984,"TCZ":217,"TMZ":222,"MPZ":171,"SMZ":342,"Whole":237},
{"year":1985,"TCZ":214,"TMZ":224,"MPZ":174,"SMZ":345,"Whole":239},
{"year":1986,"TCZ":212,"TMZ":221,"MPZ":170,"SMZ":349,"Whole":238},
{"year":1987,"TCZ":211,"TMZ":226,"MPZ":177,"SMZ":347,"Whole":241},
{"year":1988,"TCZ":217,"TMZ":230,"MPZ":185,"SMZ":348,"Whole":245},
{"year":1989,"TCZ":226,"TMZ":232,"MPZ":179,"SMZ":353,"Whole":248},
{"year":1990,"TCZ":230,"TMZ":244,"MPZ":175,"SMZ":351,"Whole":250},
{"year":1991,"TCZ":216,"TMZ":223,"MPZ":180,"SMZ":349,"Whole":244},
{"year":1992,"TCZ":221,"TMZ":238,"MPZ":173,"SMZ":347,"Whole":244},
{"year":1993,"TCZ":223,"TMZ":229,"MPZ":178,"SMZ":343,"Whole":244},
{"year":1994,"TCZ":225,"TMZ":233,"MPZ":181,"SMZ":352,"Whole":248},
{"year":1995,"TCZ":219,"TMZ":231,"MPZ":187,"SMZ":348,"Whole":247},
{"year":1996,"TCZ":215,"TMZ":223,"MPZ":185,"SMZ":353,"Whole":245},
{"year":1997,"TCZ":225,"TMZ":229,"MPZ":169,"SMZ":348,"Whole":243},
{"year":1998,"TCZ":232,"TMZ":242,"MPZ":192,"SMZ":351,"Whole":255},
{"year":1999,"TCZ":224,"TMZ":235,"MPZ":190,"SMZ":354,"Whole":250},
{"year":2000,"TCZ":220,"TMZ":229,"MPZ":180,"SMZ":357,"Whole":247},
{"year":2001,"TCZ":230,"TMZ":234,"MPZ":188,"SMZ":350,"Whole":250},
{"year":2002,"TCZ":229,"TMZ":239,"MPZ":182,"SMZ":355,"Whole":251},
{"year":2003,"TCZ":224,"TMZ":235,"MPZ":188,"SMZ":350,"Whole":249},
{"year":2004,"TCZ":229,"TMZ":245,"MPZ":187,"SMZ":357,"Whole":255},
{"year":2005,"TCZ":227,"TMZ":228,"MPZ":185,"SMZ":337,"Whole":245},
{"year":2006,"TCZ":234,"TMZ":228,"MPZ":190,"SMZ":350,"Whole":251},
{"year":2007,"TCZ":230,"TMZ":236,"MPZ":191,"SMZ":352,"Whole":252},
{"year":2008,"TCZ":234,"TMZ":242,"MPZ":188,"SMZ":358,"Whole":256},
{"year":2009,"TCZ":231,"TMZ":234,"MPZ":194,"SMZ":347,"Whole":252},
{"year":2010,"TCZ":220,"TMZ":231,"MPZ":190,"SMZ":354,"Whole":249},
{"year":2011,"TCZ":225,"TMZ":236,"MPZ":189,"SMZ":342,"Whole":248},
{"year":2012,"TCZ":221,"TMZ":222,"MPZ":184,"SMZ":339,"Whole":242},
{"year":2013,"TCZ":229,"TMZ":233,"MPZ":184,"SMZ":348,"Whole":249},
{"year":2014,"TCZ":233,"TMZ":243,"MPZ":186,"SMZ":355,"Whole":254},
{"year":2015,"TCZ":220,"TMZ":228,"MPZ":178,"SMZ":348,"Whole":244}
],
"DTR": [
{"year":1956,"TCZ":13.3,"TMZ":11.4,"MPZ":15.0,"SMZ":8.7,"Whole":12.1},
{"year":1957,"TCZ":13.4,"TMZ":11.5,"MPZ":14.8,"SMZ":8.5,"Whole":12.0},
{"year":1958,"TCZ":13.0,"TMZ":11.6,"MPZ":15.0,"SMZ":8.8,"Whole":12.1},
{"year":1959,"TCZ":12.9,"TMZ":11.4,"MPZ":15.2,"SMZ":8.6,"Whole":12.0},
{"year":1960,"TCZ":13.4,"TMZ":11.4,"MPZ":15.2,"SMZ":8.8,"Whole":12.2},
{"year":1961,"TCZ":13.9,"TMZ":11.7,"MPZ":15.0,"SMZ":8.7,"Whole":12.3},
{"year":1962,"TCZ":13.9,"TMZ":11.9,"MPZ":15.3,"SMZ":9.1,"Whole":12.6},
{"year":1963,"TCZ":13.6,"TMZ":11.8,"MPZ":15.4,"SMZ":9.3,"Whole":12.5},
{"year":1964,"TCZ":12.9,"TMZ":10.9,"MPZ":15.0,"SMZ":8.3,"Whole":11.8},
{"year":1965,"TCZ":14.0,"TMZ":12.1,"MPZ":15.1,"SMZ":8.6,"Whole":12.5},
{"year":1966,"TCZ":13.4,"TMZ":11.8,"MPZ":15.2,"SMZ":8.9,"Whole":12.3},
{"year":1967,"TCZ":13.3,"TMZ":11.9,"MPZ":14.7,"SMZ":8.7,"Whole":12.1},
{"year":1968,"TCZ":13.6,"TMZ":11.9,"MPZ":14.9,"SMZ":8.6,"Whole":12.2},
{"year":1969,"TCZ":13.1,"TMZ":11.5,"MPZ":15.2,"SMZ":8.8,"Whole":12.2},
{"year":1970,"TCZ":13.4,"TMZ":11.9,"MPZ":15.3,"SMZ":8.3,"Whole":12.3},
{"year":1971,"TCZ":13.4,"TMZ":11.7,"MPZ":15.0,"SMZ":9.0,"Whole":12.3},
{"year":1972,"TCZ":13.4,"TMZ":11.6,"MPZ":15.0,"SMZ":8.4,"Whole":12.1},
{"year":1973,"TCZ":13.1,"TMZ":11.5,"MPZ":15.2,"SMZ":8.3,"Whole":12.0},
{"year":1974,"TCZ":13.2,"TMZ":11.4,"MPZ":14.6,"SMZ":8.4,"Whole":11.9},
{"year":1975,"TCZ":13.1,"TMZ":11.6,"MPZ":14.6,"SMZ":8.1,"Whole":11.9},
{"year":1976,"TCZ":12.9,"TMZ":11.5,"MPZ":14.8,"SMZ":8.3,"Whole":11.9},
{"year":1977,"TCZ":13.0,"TMZ":11.7,"MPZ":14.4,"SMZ":8.4,"Whole":11.9},
{"year":1978,"TCZ":13.2,"TMZ":11.8,"MPZ":14.8,"SMZ":8.7,"Whole":12.1},
{"year":1979,"TCZ":13.0,"TMZ":11.8,"MPZ":14.9,"SMZ":8.8,"Whole":12.1},
{"year":1980,"TCZ":13.0,"TMZ":11.2,"MPZ":14.8,"SMZ":8.3,"Whole":11.8},
{"year":1981,"TCZ":12.8,"TMZ":11.4,"MPZ":14.6,"SMZ":8.2,"Whole":11.7},
{"year":1982,"TCZ":13.0,"TMZ":11.7,"MPZ":14.3,"SMZ":8.1,"Whole":11.8},
{"year":1983,"TCZ":12.9,"TMZ":11.1,"MPZ":14.5,"SMZ":8.2,"Whole":11.7},
{"year":1984,"TCZ":12.8,"TMZ":10.8,"MPZ":15.0,"SMZ":8.1,"Whole":11.7},
{"year":1985,"TCZ":12.8,"TMZ":10.7,"MPZ":14.4,"SMZ":8.0,"Whole":11.5},
{"year":1986,"TCZ":12.9,"TMZ":11.3,"MPZ":14.8,"SMZ":8.5,"Whole":11.9},
{"year":1987,"TCZ":12.9,"TMZ":11.2,"MPZ":15.0,"SMZ":8.5,"Whole":11.9},
{"year":1988,"TCZ":12.7,"TMZ":10.9,"MPZ":14.7,"SMZ":8.3,"Whole":11.7},
{"year":1989,"TCZ":12.8,"TMZ":11.1,"MPZ":13.9,"SMZ":7.9,"Whole":11.5},
{"year":1990,"TCZ":12.8,"TMZ":10.8,"MPZ":14.7,"SMZ":8.1,"Whole":11.6},
{"year":1991,"TCZ":12.9,"TMZ":10.9,"MPZ":14.7,"SMZ":8.1,"Whole":11.6},
{"year":1992,"TCZ":12.7,"TMZ":11.3,"MPZ":14.5,"SMZ":8.5,"Whole":11.7},
{"year":1993,"TCZ":12.7,"TMZ":10.9,"MPZ":14.4,"SMZ":8.3,"Whole":11.6},
{"year":1994,"TCZ":12.8,"TMZ":10.9,"MPZ":14.9,"SMZ":8.2,"Whole":11.7},
{"year":1995,"TCZ":12.9,"TMZ":11.2,"MPZ":14.5,"SMZ":8.2,"Whole":11.7},
{"year":1996,"TCZ":12.7,"TMZ":11.0,"MPZ":14.5,"SMZ":8.2,"Whole":11.6},
{"year":1997,"TCZ":13.5,"TMZ":11.3,"MPZ":14.4,"SMZ":8.2,"Whole":11.8},
{"year":1998,"TCZ":12.7,"TMZ":10.9,"MPZ":14.7,"SMZ":8.3,"Whole":11.6},
{"year":1999,"TCZ":12.9,"TMZ":11.0,"MPZ":14.8,"SMZ":8.2,"Whole":11.7},
{"year":2000,"TCZ":12.9,"TMZ":10.9,"MPZ":14.6,"SMZ":8.0,"Whole":11.6},
{"year":2001,"TCZ":12.9,"TMZ":11.1,"MPZ":14.7,"SMZ":8.2,"Whole":11.7},
{"year":2002,"TCZ":12.7,"TMZ":11.0,"MPZ":14.8,"SMZ":8.3,"Whole":11.7},
{"year":2003,"TCZ":12.4,"TMZ":10.6,"MPZ":14.6,"SMZ":8.4,"Whole":11.5},
{"year":2004,"TCZ":12.8,"TMZ":10.9,"MPZ":14.5,"SMZ":8.7,"Whole":11.7},
{"year":2005,"TCZ":12.8,"TMZ":10.7,"MPZ":14.0,"SMZ":8.0,"Whole":11.4},
{"year":2006,"TCZ":12.8,"TMZ":10.9,"MPZ":14.6,"SMZ":8.4,"Whole":11.6},
{"year":2007,"TCZ":12.8,"TMZ":10.9,"MPZ":14.8,"SMZ":8.3,"Whole":11.7},
{"year":2008,"TCZ":12.7,"TMZ":11.0,"MPZ":14.2,"SMZ":8.2,"Whole":11.5},
{"year":2009,"TCZ":12.9,"TMZ":10.8,"MPZ":14.4,"SMZ":8.4,"Whole":11.6},
{"year":2010,"TCZ":12.3,"TMZ":10.4,"MPZ":14.8,"SMZ":8.3,"Whole":11.5},
{"year":2011,"TCZ":12.5,"TMZ":10.6,"MPZ":14.5,"SMZ":8.2,"Whole":11.5},
{"year":2012,"TCZ":12.5,"TMZ":10.4,"MPZ":13.9,"SMZ":7.8,"Whole":11.2},
{"year":2013,"TCZ":12.9,"TMZ":10.5,"MPZ":14.8,"SMZ":8.7,"Whole":11.7},
{"year":2014,"TCZ":12.8,"TMZ":11.1,"MPZ":14.5,"SMZ":8.2,"Whole":11.7},
{"year":2015,"TCZ":13.0,"TMZ":11.2,"MPZ":14.7,"SMZ":8.4,"Whole":11.8}
]
},
"concat": [
{"data":{"name":"FD0"},"width":289,"height":275,
 "transform":[{"fold":["TCZ","TMZ","MPZ","SMZ","Whole"],"as":["s","v"]},{"filter":"isValid(datum.v)"}],
 "encoding":{
  "x":{"field":"year","type":"quantitative","scale":{"domain":[1956,2016],"nice":false,"zero":false},"axis":{"values":[1956,1961,1966,1971,1976,1981,1986,1991,1996,2001,2006,2011,2016],"format":"d","labelExpr":"(datum.value - 1956) % 10 == 0 ? datum.label : ''","title":"Year"}},
  "y":{"field":"v","type":"quantitative","scale":{"domain":[0,280],"nice":false,"zero":false},"axis":{"values":[0,40,80,120,160,200,240,280],"title":"FD0 (days)"}},
  "color":{"field":"s","type":"nominal","scale":{"domain":["TCZ","TMZ","MPZ","SMZ","Whole"],"range":["#ff0000","#ffa31a","#1ee81e","#0000ff","#333333"]},"legend":{"orient":"none","legendX":9,"legendY":5,"direction":"horizontal","title":null}}
 },
 "layer":[
  {"mark":{"type":"line","strokeWidth":1},"encoding":{}},
  {"mark":{"type":"point","filled":true,"size":22,"opacity":1},"encoding":{"shape":{"field":"s","type":"nominal","scale":{"domain":["TCZ","TMZ","MPZ","SMZ","Whole"],"range":["triangle-up","diamond","circle","square","M-1,-0.15L1,-0.15L1,0.15L-1,0.15Z M-0.15,-1L0.15,-1L0.15,1L-0.15,1Z M-0.594,-0.806L0.806,0.594L0.594,0.806L-0.806,-0.594Z M0.594,-0.806L0.806,-0.594L-0.594,0.806L-0.806,0.594Z"]},"legend":{"orient":"none","legendX":9,"legendY":5,"direction":"horizontal","title":null}}}},
  {"transform":[{"regression":"v","on":"year","groupby":["s"]}],"mark":{"type":"line","strokeDash":[5,3],"strokeWidth":1},"encoding":{}}
 ]},
{"data":{"name":"ID0"},"width":289,"height":275,
 "transform":[{"fold":["TCZ","TMZ","MPZ","SMZ","Whole"],"as":["s","v"]},{"filter":"isValid(datum.v)"}],
 "encoding":{
  "x":{"field":"year","type":"quantitative","scale":{"domain":[1956,2016],"nice":false,"zero":false},"axis":{"values":[1956,1961,1966,1971,1976,1981,1986,1991,1996,2001,2006,2011,2016],"format":"d","labelExpr":"(datum.value - 1956) % 10 == 0 ? datum.label : ''","title":"Year"}},
  "y":{"field":"v","type":"quantitative","scale":{"domain":[0,100],"nice":false,"zero":false},"axis":{"values":[0,20,40,60,80,100],"title":"ID0 (days)"}},
  "color":{"field":"s","type":"nominal","scale":{"domain":["TCZ","TMZ","MPZ","SMZ","Whole"],"range":["#ff0000","#ffa31a","#1ee81e","#0000ff","#333333"]},"legend":{"orient":"none","legendX":9,"legendY":5,"direction":"horizontal","title":null}}
 },
 "layer":[
  {"mark":{"type":"line","strokeWidth":1},"encoding":{}},
  {"mark":{"type":"point","filled":true,"size":22,"opacity":1},"encoding":{"shape":{"field":"s","type":"nominal","scale":{"domain":["TCZ","TMZ","MPZ","SMZ","Whole"],"range":["triangle-up","diamond","circle","square","M-1,-0.15L1,-0.15L1,0.15L-1,0.15Z M-0.15,-1L0.15,-1L0.15,1L-0.15,1Z M-0.594,-0.806L0.806,0.594L0.594,0.806L-0.806,-0.594Z M0.594,-0.806L0.806,-0.594L-0.594,0.806L-0.806,0.594Z"]},"legend":{"orient":"none","legendX":9,"legendY":5,"direction":"horizontal","title":null}}}},
  {"transform":[{"regression":"v","on":"year","groupby":["s"]}],"mark":{"type":"line","strokeDash":[5,3],"strokeWidth":1},"encoding":{}}
 ]},
{"data":{"name":"SU25"},"width":289,"height":275,
 "transform":[{"fold":["TCZ","TMZ","MPZ","SMZ","Whole"],"as":["s","v"]},{"filter":"isValid(datum.v)"}],
 "encoding":{
  "x":{"field":"year","type":"quantitative","scale":{"domain":[1956,2016],"nice":false,"zero":false},"axis":{"values":[1956,1961,1966,1971,1976,1981,1986,1991,1996,2001,2006,2011,2016],"format":"d","labelExpr":"(datum.value - 1956) % 10 == 0 ? datum.label : ''","title":"Year"}},
  "y":{"field":"v","type":"quantitative","scale":{"domain":[0,210],"nice":false,"zero":false},"axis":{"values":[0,30,60,90,120,150,180,210],"title":"SU25 (days)"}},
  "color":{"field":"s","type":"nominal","scale":{"domain":["TCZ","TMZ","MPZ","SMZ","Whole"],"range":["#ff0000","#ffa31a","#1ee81e","#0000ff","#333333"]},"legend":{"orient":"none","legendX":9,"legendY":5,"direction":"horizontal","title":null}}
 },
 "layer":[
  {"mark":{"type":"line","strokeWidth":1},"encoding":{}},
  {"mark":{"type":"point","filled":true,"size":22,"opacity":1},"encoding":{"shape":{"field":"s","type":"nominal","scale":{"domain":["TCZ","TMZ","MPZ","SMZ","Whole"],"range":["triangle-up","diamond","circle","square","M-1,-0.15L1,-0.15L1,0.15L-1,0.15Z M-0.15,-1L0.15,-1L0.15,1L-0.15,1Z M-0.594,-0.806L0.806,0.594L0.594,0.806L-0.806,-0.594Z M0.594,-0.806L0.806,-0.594L-0.594,0.806L-0.806,0.594Z"]},"legend":{"orient":"none","legendX":9,"legendY":5,"direction":"horizontal","title":null}}}},
  {"transform":[{"regression":"v","on":"year","groupby":["s"]}],"mark":{"type":"line","strokeDash":[5,3],"strokeWidth":1},"encoding":{}}
 ]},
{"data":{"name":"TR20"},"width":289,"height":275,
 "transform":[{"fold":["TCZ","TMZ","MPZ","SMZ","Whole"],"as":["s","v"]},{"filter":"isValid(datum.v)"}],
 "encoding":{
  "x":{"field":"year","type":"quantitative","scale":{"domain":[1956,2016],"nice":false,"zero":false},"axis":{"values":[1956,1961,1966,1971,1976,1981,1986,1991,1996,2001,2006,2011,2016],"format":"d","labelExpr":"(datum.value - 1956) % 10 == 0 ? datum.label : ''","title":"Year"}},
  "y":{"field":"v","type":"quantitative","scale":{"domain":[10,150],"nice":false,"zero":false},"axis":{"values":[10,30,50,70,90,110,130,150],"title":"TR20 (days)"}},
  "color":{"field":"s","type":"nominal","scale":{"domain":["TCZ","TMZ","MPZ","SMZ","Whole"],"range":["#ff0000","#ffa31a","#1ee81e","#0000ff","#333333"]},"legend":{"orient":"none","legendX":9,"legendY":5,"direction":"horizontal","title":null}}
 },
 "layer":[
  {"mark":{"type":"line","strokeWidth":1},"encoding":{}},
  {"mark":{"type":"point","filled":true,"size":22,"opacity":1},"encoding":{"shape":{"field":"s","type":"nominal","scale":{"domain":["TCZ","TMZ","MPZ","SMZ","Whole"],"range":["triangle-up","diamond","circle","square","M-1,-0.15L1,-0.15L1,0.15L-1,0.15Z M-0.15,-1L0.15,-1L0.15,1L-0.15,1Z M-0.594,-0.806L0.806,0.594L0.594,0.806L-0.806,-0.594Z M0.594,-0.806L0.806,-0.594L-0.594,0.806L-0.806,0.594Z"]},"legend":{"orient":"none","legendX":9,"legendY":5,"direction":"horizontal","title":null}}}},
  {"transform":[{"regression":"v","on":"year","groupby":["s"]}],"mark":{"type":"line","strokeDash":[5,3],"strokeWidth":1},"encoding":{}}
 ]},
{"data":{"name":"CSDI"},"width":289,"height":275,
 "transform":[{"fold":["TCZ","TMZ","MPZ","SMZ","Whole"],"as":["s","v"]},{"filter":"isValid(datum.v)"}],
 "encoding":{
  "x":{"field":"year","type":"quantitative","scale":{"domain":[1956,2016],"nice":false,"zero":false},"axis":{"values":[1956,1961,1966,1971,1976,1981,1986,1991,1996,2001,2006,2011,2016],"format":"d","labelExpr":"(datum.value - 1956) % 10 == 0 ? datum.label : ''","title":"Year"}},
  "y":{"field":"v","type":"quantitative","scale":{"domain":[0,12],"nice":false,"zero":false},"axis":{"values":[0,2,4,6,8,10,12],"title":"CSDI (days)"}},
  "color":{"field":"s","type":"nominal","scale":{"domain":["TCZ","TMZ","MPZ","SMZ","Whole"],"range":["#ff0000","#ffa31a","#1ee81e","#0000ff","#333333"]},"legend":{"orient":"none","legendX":9,"legendY":5,"direction":"horizontal","title":null}}
 },
 "layer":[
  {"mark":{"type":"line","strokeWidth":1},"encoding":{}},
  {"mark":{"type":"point","filled":true,"size":22,"opacity":1},"encoding":{"shape":{"field":"s","type":"nominal","scale":{"domain":["TCZ","TMZ","MPZ","SMZ","Whole"],"range":["triangle-up","diamond","circle","square","M-1,-0.15L1,-0.15L1,0.15L-1,0.15Z M-0.15,-1L0.15,-1L0.15,1L-0.15,1Z M-0.594,-0.806L0.806,0.594L0.594,0.806L-0.806,-0.594Z M0.594,-0.806L0.806,-0.594L-0.594,0.806L-0.806,0.594Z"]},"legend":{"orient":"none","legendX":9,"legendY":5,"direction":"horizontal","title":null}}}},
  {"transform":[{"regression":"v","on":"year","groupby":["s"]}],"mark":{"type":"line","strokeDash":[5,3],"strokeWidth":1},"encoding":{}}
 ]},
{"data":{"name":"WSDI"},"width":289,"height":275,
 "transform":[{"fold":["TCZ","TMZ","MPZ","SMZ","Whole"],"as":["s","v"]},{"filter":"isValid(datum.v)"}],
 "encoding":{
  "x":{"field":"year","type":"quantitative","scale":{"domain":[1956,2016],"nice":false,"zero":false},"axis":{"values":[1956,1961,1966,1971,1976,1981,1986,1991,1996,2001,2006,2011,2016],"format":"d","labelExpr":"(datum.value - 1956) % 10 == 0 ? datum.label : ''","title":"Year"}},
  "y":{"field":"v","type":"quantitative","scale":{"domain":[0,2],"nice":false,"zero":false},"axis":{"values":[0,0.5,1,1.5,2],"format":"~g","title":"WSDI (days)"}},
  "color":{"field":"s","type":"nominal","scale":{"domain":["TCZ","TMZ","MPZ","SMZ","Whole"],"range":["#ff0000","#ffa31a","#1ee81e","#0000ff","#333333"]},"legend":{"orient":"none","legendX":9,"legendY":5,"direction":"horizontal","title":null}}
 },
 "layer":[
  {"mark":{"type":"line","strokeWidth":1},"encoding":{}},
  {"mark":{"type":"point","filled":true,"size":22,"opacity":1},"encoding":{"shape":{"field":"s","type":"nominal","scale":{"domain":["TCZ","TMZ","MPZ","SMZ","Whole"],"range":["triangle-up","diamond","circle","square","M-1,-0.15L1,-0.15L1,0.15L-1,0.15Z M-0.15,-1L0.15,-1L0.15,1L-0.15,1Z M-0.594,-0.806L0.806,0.594L0.594,0.806L-0.806,-0.594Z M0.594,-0.806L0.806,-0.594L-0.594,0.806L-0.806,0.594Z"]},"legend":{"orient":"none","legendX":9,"legendY":5,"direction":"horizontal","title":null}}}},
  {"transform":[{"regression":"v","on":"year","groupby":["s"]}],"mark":{"type":"line","strokeDash":[5,3],"strokeWidth":1},"encoding":{}}
 ]},
{"data":{"name":"GSL"},"width":289,"height":275,
 "transform":[{"fold":["TCZ","TMZ","MPZ","SMZ","Whole"],"as":["s","v"]},{"filter":"isValid(datum.v)"}],
 "encoding":{
  "x":{"field":"year","type":"quantitative","scale":{"domain":[1956,2016],"nice":false,"zero":false},"axis":{"values":[1956,1961,1966,1971,1976,1981,1986,1991,1996,2001,2006,2011,2016],"format":"d","labelExpr":"(datum.value - 1956) % 10 == 0 ? datum.label : ''","title":"Year"}},
  "y":{"field":"v","type":"quantitative","scale":{"domain":[160,400],"nice":false,"zero":false},"axis":{"values":[160,200,240,280,320,360,400],"title":"GSL (days)"}},
  "color":{"field":"s","type":"nominal","scale":{"domain":["TCZ","TMZ","MPZ","SMZ","Whole"],"range":["#ff0000","#ffa31a","#1ee81e","#0000ff","#333333"]},"legend":{"orient":"none","legendX":9,"legendY":5,"direction":"horizontal","title":null}}
 },
 "layer":[
  {"mark":{"type":"line","strokeWidth":1},"encoding":{}},
  {"mark":{"type":"point","filled":true,"size":22,"opacity":1},"encoding":{"shape":{"field":"s","type":"nominal","scale":{"domain":["TCZ","TMZ","MPZ","SMZ","Whole"],"range":["triangle-up","diamond","circle","square","M-1,-0.15L1,-0.15L1,0.15L-1,0.15Z M-0.15,-1L0.15,-1L0.15,1L-0.15,1Z M-0.594,-0.806L0.806,0.594L0.594,0.806L-0.806,-0.594Z M0.594,-0.806L0.806,-0.594L-0.594,0.806L-0.806,0.594Z"]},"legend":{"orient":"none","legendX":9,"legendY":5,"direction":"horizontal","title":null}}}},
  {"transform":[{"regression":"v","on":"year","groupby":["s"]}],"mark":{"type":"line","strokeDash":[5,3],"strokeWidth":1},"encoding":{}}
 ]},
{"data":{"name":"DTR"},"width":289,"height":275,
 "transform":[{"fold":["TCZ","TMZ","MPZ","SMZ","Whole"],"as":["s","v"]},{"filter":"isValid(datum.v)"}],
 "encoding":{
  "x":{"field":"year","type":"quantitative","scale":{"domain":[1956,2016],"nice":false,"zero":false},"axis":{"values":[1956,1961,1966,1971,1976,1981,1986,1991,1996,2001,2006,2011,2016],"format":"d","labelExpr":"(datum.value - 1956) % 10 == 0 ? datum.label : ''","title":"Year"}},
  "y":{"field":"v","type":"quantitative","scale":{"domain":[7,17],"nice":false,"zero":false},"axis":{"values":[7,9,11,13,15,17],"title":"DTR (°C)"}},
  "color":{"field":"s","type":"nominal","scale":{"domain":["TCZ","TMZ","MPZ","SMZ","Whole"],"range":["#ff0000","#ffa31a","#1ee81e","#0000ff","#333333"]},"legend":{"orient":"none","legendX":9,"legendY":5,"direction":"horizontal","title":null}}
 },
 "layer":[
  {"mark":{"type":"line","strokeWidth":1},"encoding":{}},
  {"mark":{"type":"point","filled":true,"size":22,"opacity":1},"encoding":{"shape":{"field":"s","type":"nominal","scale":{"domain":["TCZ","TMZ","MPZ","SMZ","Whole"],"range":["triangle-up","diamond","circle","square","M-1,-0.15L1,-0.15L1,0.15L-1,0.15Z M-0.15,-1L0.15,-1L0.15,1L-0.15,1Z M-0.594,-0.806L0.806,0.594L0.594,0.806L-0.806,-0.594Z M0.594,-0.806L0.806,-0.594L-0.594,0.806L-0.806,0.594Z"]},"legend":{"orient":"none","legendX":9,"legendY":5,"direction":"horizontal","title":null}}}},
  {"transform":[{"regression":"v","on":"year","groupby":["s"]}],"mark":{"type":"line","strokeDash":[5,3],"strokeWidth":1},"encoding":{}}
 ]}
],
"config": {
 "font": "Liberation Sans",
 "view": {"stroke": "#888888", "strokeWidth": 1},
 "axis": {"grid": false, "domainColor": "#000000", "tickColor": "#000000", "labelColor": "#000000", "titleColor": "#000000", "labelFontSize": 12, "titleFontSize": 12, "titleFontWeight": "normal", "tickSize": 4, "labelPadding": 2, "labelFont": "Liberation Sans", "titleFont": "Liberation Sans"},
 "axisX": {"labelFlush": false, "titlePadding": 1, "tickSize": -3, "labelPadding": 11},
 "axisY": {"minExtent": 28, "maxExtent": 28, "titlePadding": 2},
 "legend": {"labelFontSize": 10, "labelFont": "Liberation Sans", "labelColor": "#000000", "symbolSize": 30, "columnPadding": 11, "labelOffset": 10}
}
}
